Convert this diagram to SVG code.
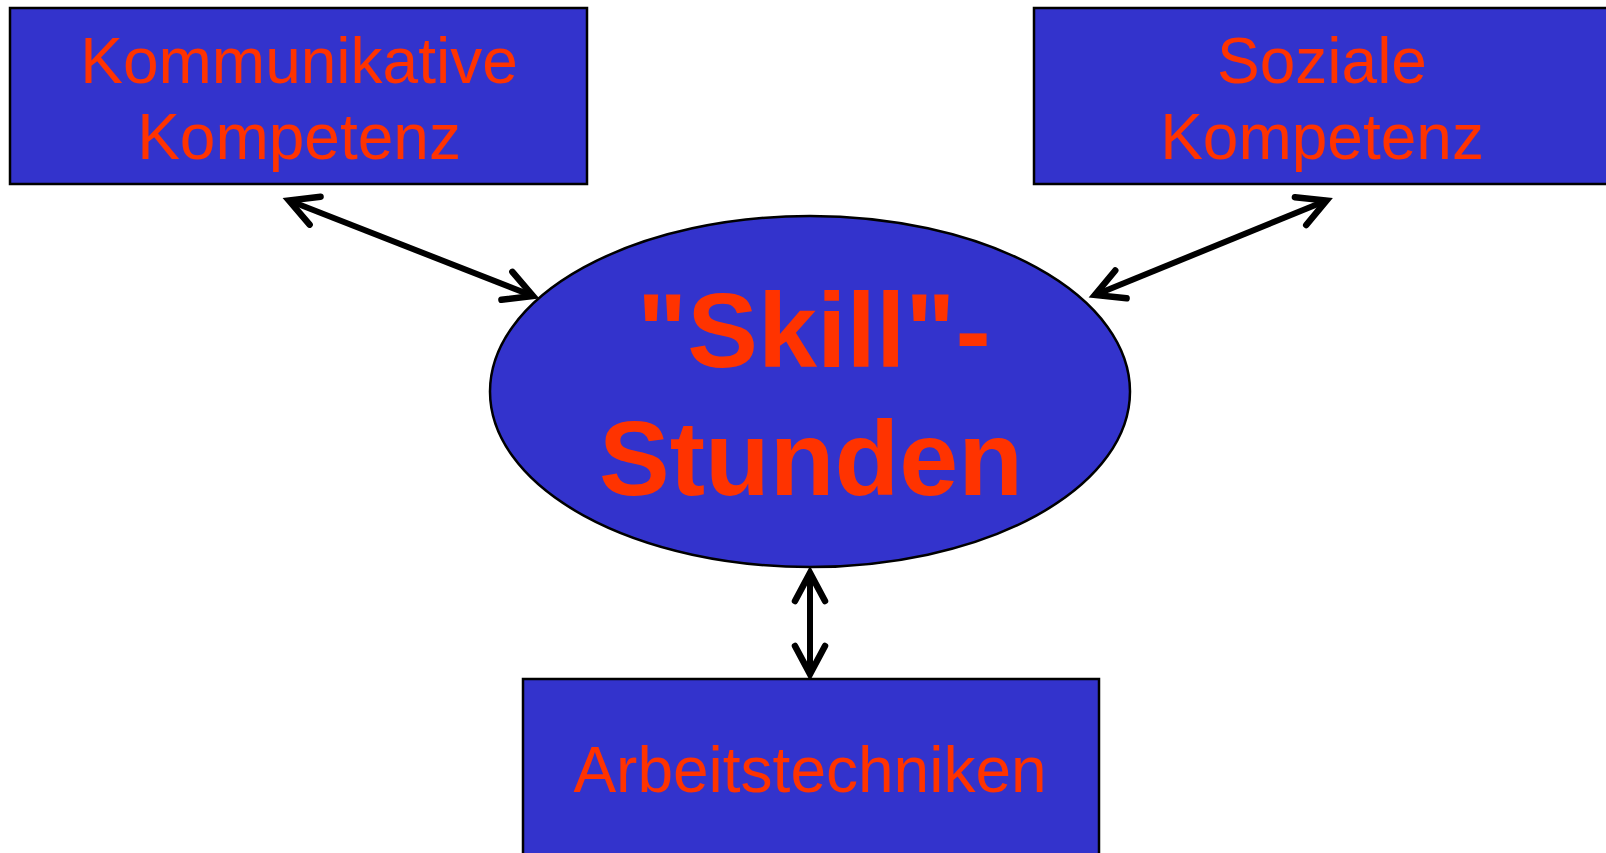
<svg xmlns="http://www.w3.org/2000/svg" width="1606" height="853" viewBox="0 0 1606 853">
<style>
.box{fill:#3333CC;stroke:#000;stroke-width:2.5}
.lbl{font-family:"Liberation Sans",Arial,sans-serif;font-size:64px;fill:#FF3300;text-anchor:middle}
.big{font-family:"Liberation Sans",Arial,sans-serif;font-size:106px;font-weight:bold;fill:#FF3300;text-anchor:middle}
.con{stroke:#000;stroke-width:6;fill:none;marker-start:url(#ah);marker-end:url(#ah)}
</style>
<defs>
<marker id="ah" markerUnits="userSpaceOnUse" orient="auto-start-reverse" refX="0" refY="0" markerWidth="60" markerHeight="60" viewBox="-40 -30 60 60" overflow="visible">
<path d="M-28,-15 L0,0 L-28,15" fill="none" stroke="#000" stroke-width="6.5" stroke-linecap="round" stroke-linejoin="miter"/>
</marker>
</defs>
<rect width="1606" height="853" fill="#fff"/>
<g id="connectors">
<line class="con" x1="289" y1="200.5" x2="533" y2="296"/>
<line class="con" x1="1326.5" y1="200.5" x2="1095" y2="295"/>
<line class="con" x1="810" y1="573" x2="810" y2="674"/>
</g>
<g id="node-kommunikative">
<rect class="box" x="10" y="8" width="577" height="176"/>
<text class="lbl" x="299" y="83">Kommunikative</text>
<text class="lbl" x="299" y="159">Kompetenz</text>
</g>
<g id="node-soziale">
<rect class="box" x="1034" y="8" width="577" height="176"/>
<text class="lbl" x="1322" y="83">Soziale</text>
<text class="lbl" x="1322" y="159">Kompetenz</text>
</g>
<g id="node-skill">
<ellipse class="box" cx="810" cy="391.5" rx="320" ry="175.5" stroke-width="2"/>
<text class="big" x="814" y="367">"Skill"-</text>
<text class="big" x="811" y="495">Stunden</text>
</g>
<g id="node-arbeitstechniken">
<rect class="box" x="523" y="679" width="576" height="200"/>
<text class="lbl" x="810" y="792">Arbeitstechniken</text>
</g>
</svg>
